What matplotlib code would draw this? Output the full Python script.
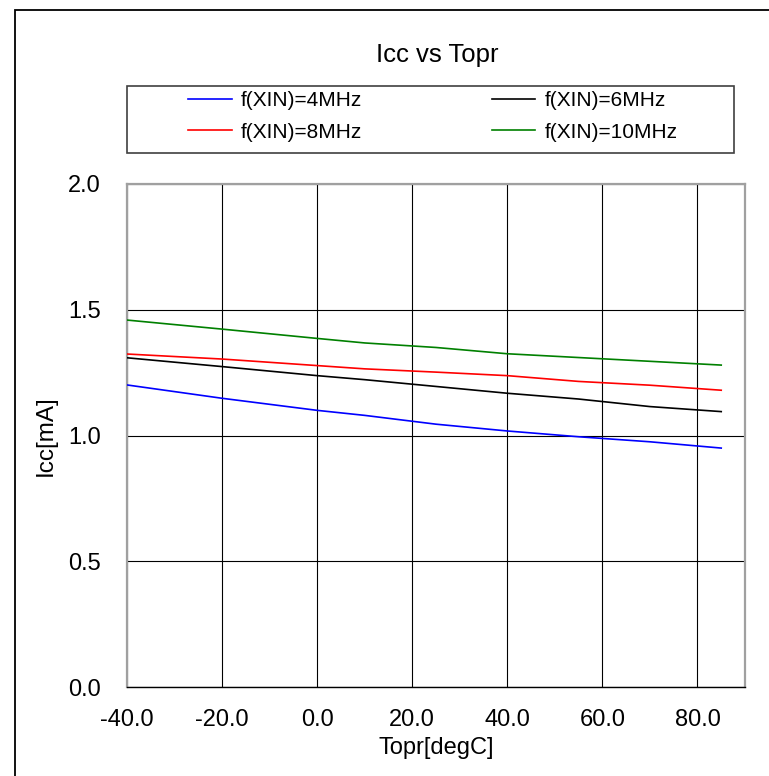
import matplotlib
matplotlib.use("Agg")
import matplotlib.pyplot as plt
from matplotlib.patches import Rectangle

# -------- data --------
topr = [-40, -20, 0, 10, 25, 40, 55, 70, 85]
icc_4mhz = [1.201, 1.148, 1.100, 1.080, 1.045, 1.018, 0.995, 0.975, 0.950]
icc_6mhz = [1.309, 1.274, 1.238, 1.222, 1.195, 1.168, 1.145, 1.115, 1.095]
icc_8mhz = [1.324, 1.304, 1.278, 1.265, 1.252, 1.238, 1.215, 1.200, 1.180]
icc_10mhz = [1.459, 1.423, 1.386, 1.368, 1.350, 1.325, 1.310, 1.295, 1.280]

labels = ["f(XIN)=4MHz", "f(XIN)=6MHz", "f(XIN)=8MHz", "f(XIN)=10MHz"]
colors = ["#0000ff", "#000000", "#ff0000", "#008000"]
x_ticks = [-40, -20, 0, 20, 40, 60, 80]
y_ticks = [0.0, 0.5, 1.0, 1.5, 2.0]

plt.rcParams["font.family"] = ["Liberation Sans", "DejaVu Sans"]

W, H = 769, 776
fig = plt.figure(figsize=(W / 100, H / 100), dpi=100)

def fx(px):
    return px / W

def fy(py):
    return 1 - py / H

# outer chart border (runs off the right/bottom of the image)
fig.patches.append(Rectangle((fx(15), fy(800)), fx(800), fy(10) - fy(800),
                             transform=fig.transFigure, fill=False,
                             edgecolor="black", linewidth=1.3))

ax = fig.add_axes([fx(127), fy(687), fx(745) - fx(127), fy(184) - fy(687)])

series = [icc_4mhz, icc_6mhz, icc_8mhz, icc_10mhz]
handles = []
for vals, c, lab in zip(series, colors, labels):
    h, = ax.plot(topr, vals, color=c, linewidth=1.2, label=lab, zorder=3)
    handles.append(h)

ax.set_xlim(-40, 90)
ax.set_ylim(0, 2.0)
ax.set_xticks(x_ticks)
ax.set_xticklabels([f"{v:.1f}" for v in x_ticks])
ax.set_yticks(y_ticks)
ax.set_yticklabels([f"{v:.1f}" for v in y_ticks])
ax.tick_params(axis="both", length=0, labelsize=17)
ax.tick_params(axis="y", pad=19)
ax.tick_params(axis="x", pad=16)
ax.grid(True, color="black", linewidth=0.8, zorder=1)

for side in ["left", "top", "right"]:
    ax.spines[side].set_color("#a0a0a0")
    ax.spines[side].set_linewidth(1.6)
ax.spines["bottom"].set_color("black")
ax.spines["bottom"].set_linewidth(1.0)

ax.set_xlabel("Topr[degC]", fontsize=17, labelpad=4)
ax.set_ylabel("Icc[mA]", fontsize=17.5, labelpad=8)

fig.text(fx(437), fy(55), "Icc vs Topr", fontsize=18.5, ha="center", va="center")

# legend frame + frameless legend inside it (row-wise order like the source)
fig.patches.append(Rectangle((fx(127), fy(153)), fx(734) - fx(127), fy(86) - fy(153),
                             transform=fig.transFigure, fill=False,
                             edgecolor="#404040", linewidth=1.2))
order = [0, 2, 1, 3]
fig.legend([handles[i] for i in order], [labels[i] for i in order],
           loc="upper left", bbox_to_anchor=(fx(188), fy(91)), ncol=2,
           frameon=False, fontsize=15, borderpad=0, borderaxespad=0,
           handlelength=2.1, handletextpad=0.45, columnspacing=6.2,
           labelspacing=0.6)

fig.savefig("out.png", dpi=100, facecolor="white")
